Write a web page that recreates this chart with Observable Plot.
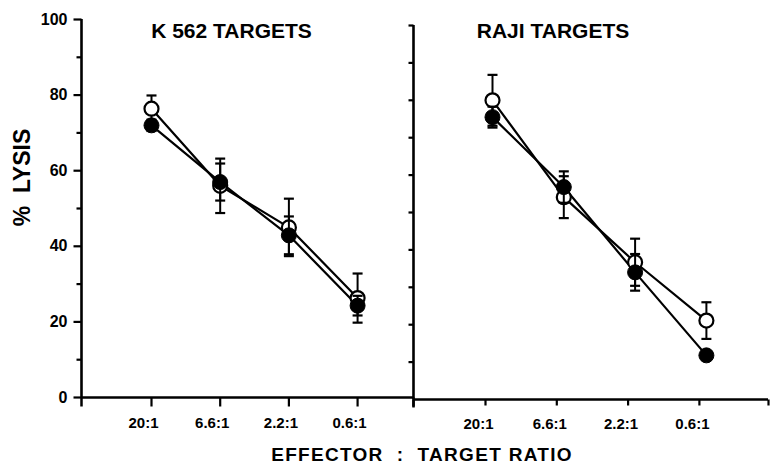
<!DOCTYPE html>
<html><head><meta charset="utf-8">
<script src="https://cdn.jsdelivr.net/npm/d3@7"></script>
<script src="https://cdn.jsdelivr.net/npm/@observablehq/plot@0.6"></script>
<style>
body{margin:0;background:#fff}
#wrap{position:relative;width:770px;height:465px;font-family:"Liberation Sans",Arial,sans-serif;font-weight:bold;color:#000;overflow:hidden}
#wrap svg{position:absolute;top:0;overflow:visible;background:transparent}
#xtitle{position:absolute;left:0;width:844px;text-align:center;top:445px;font-size:19px;line-height:19px;white-space:pre;letter-spacing:1.3px}
</style></head><body><div id="wrap"><div id="xtitle">EFFECTOR  :  TARGET RATIO</div></div>
<script>
const ratios = ["20:1", "6.6:1", "2.2:1", "0.6:1"];
const panelTitles = ["K 562 TARGETS", "RAJI TARGETS"];
const yTitle = "%  LYSIS";
const yMajor = [0, 20, 40, 60, 80, 100];
const yMinor = [10, 30, 50, 70, 90];
const yAll = [10, 20, 30, 40, 50, 60, 70, 80, 90, 100];

// K 562 panel
const k562Open = [76.4, 56.0, 45.0, 26.3];
const k562OpenErr = [3.5, 7.2, 7.6, 6.5];
const k562Filled = [72.0, 57.0, 42.9, 24.3];
const k562FilledErr = [1.5, 4.9, 5.0, 2.6];
// RAJI panel
const rajiOpen = [80.0, 54.1, 36.7, 21.1];
const rajiOpenErr = [6.8, 5.6, 6.3, 4.9];
const rajiFilled = [75.5, 56.8, 34.0, 11.8];
const rajiFilledErr = [2.8, 4.2, 4.9, 1.0];

const rows = (vals, errs) => vals.map((v, i) => ({i, v, lo: v - errs[i], hi: v + errs[i]}));

// custom symbols (r = length in px)
const cap = {draw(ctx, size) { const h = Math.sqrt(size / Math.PI); ctx.moveTo(-h, 0); ctx.lineTo(h, 0); }};
const tickLeft = {draw(ctx, size) { const h = Math.sqrt(size / Math.PI); ctx.moveTo(-h, 0); ctx.lineTo(0, 0); }};
const tickDown = {draw(ctx, size) { const h = Math.sqrt(size / Math.PI); ctx.moveTo(0, 0); ctx.lineTo(0, h); }};

const FONT = {fontFamily: "'Liberation Sans', Arial, sans-serif", fontWeight: "bold", background: "transparent", overflow: "visible", color: "black"};
const K = "black";

function seriesMarks(open, filled) {
  return [
    Plot.line(open, {x: "i", y: "v", stroke: K, strokeWidth: 2.2}),
    Plot.line(filled, {x: "i", y: "v", stroke: K, strokeWidth: 2.2}),
    Plot.ruleX(open, {x: "i", y1: "lo", y2: "hi", stroke: K, strokeWidth: 2}),
    Plot.dot(open, {x: "i", y: "hi", symbol: cap, r: 5, stroke: K, fill: "none", strokeWidth: 2.2}),
    Plot.dot(open, {x: "i", y: "lo", symbol: cap, r: 5, stroke: K, fill: "none", strokeWidth: 2.2}),
    Plot.dot(open, {x: "i", y: "v", r: 7, fill: "white", stroke: K, strokeWidth: 2.2}),
    Plot.ruleX(filled, {x: "i", y1: "lo", y2: "hi", stroke: K, strokeWidth: 2}),
    Plot.dot(filled, {x: "i", y: "hi", symbol: cap, r: 5, stroke: K, fill: "none", strokeWidth: 2.2}),
    Plot.dot(filled, {x: "i", y: "lo", symbol: cap, r: 5, stroke: K, fill: "none", strokeWidth: 2.2}),
    Plot.dot(filled, {x: "i", y: "v", r: 7.5, fill: K, stroke: K, strokeWidth: 1})
  ];
}

const idx = d3.range(ratios.length);

// ---- left panel (K 562)
const leftDomain = [-1.019, 3.814];
const left = Plot.plot({
  width: 414, height: 432,
  marginLeft: 81, marginRight: 1, marginTop: 19, marginBottom: 35,
  style: FONT,
  x: {type: "linear", domain: leftDomain, label: null, axis: null},
  y: {domain: [0, 100], label: null, axis: null},
  marks: [
    Plot.ruleX([leftDomain[0]], {y1: 0, y2: 100, stroke: K, strokeWidth: 2.6}),
    Plot.ruleY([0], {x1: leftDomain[0], x2: leftDomain[1], stroke: K, strokeWidth: 2.6}),
    Plot.dot(yMajor, {x: () => leftDomain[0], y: d => d, symbol: tickLeft, r: 8, stroke: K, fill: "none", strokeWidth: 2.2}),
    Plot.dot(yMinor, {x: () => leftDomain[0], y: d => d, symbol: tickLeft, r: 5, stroke: K, fill: "none", strokeWidth: 2.2}),
    Plot.text(yMajor, {x: () => leftDomain[0], y: d => d, text: d => String(d), textAnchor: "end", dx: -14, fontSize: 16, fill: K}),
    Plot.dot(idx, {x: d => d, y: () => 0, symbol: tickDown, r: 9, stroke: K, fill: "none", strokeWidth: 2.2}),
    Plot.dot(leftDomain, {x: d => d, y: () => 0, symbol: tickDown, r: 9, stroke: K, fill: "none", strokeWidth: 2.5}),
    Plot.text(idx, {x: d => d, y: () => 0, text: i => ratios[i], lineAnchor: "top", dy: 20, dx: -8, fontSize: 15, fill: K}),
    ...seriesMarks(rows(k562Open, k562OpenErr), rows(k562Filled, k562FilledErr)),
    Plot.text([panelTitles[0]], {frameAnchor: "top", text: d => d, fontSize: 21, lineAnchor: "bottom", textAnchor: "middle", dx: -16, dy: 18, fill: K}),
    Plot.text([yTitle], {frameAnchor: "left", text: d => d, fontSize: 23, rotate: -90, textAnchor: "middle", lineAnchor: "middle", dx: -59, dy: -31, fill: K})
  ]
});
left.style.left = "0px";

// ---- right panel (RAJI)
const rightDomain = [-1.108, 3.871];
const right = Plot.plot({
  width: 370, height: 432,
  marginLeft: 13, marginRight: 2, marginTop: 25, marginBottom: 33,
  style: FONT,
  x: {type: "linear", domain: rightDomain, label: null, axis: null},
  y: {domain: [0, 100], label: null, axis: null},
  marks: [
    Plot.ruleX([rightDomain[0]], {y1: 0, y2: 100, stroke: K, strokeWidth: 2.6}),
    Plot.ruleY([0], {x1: rightDomain[0], x2: rightDomain[1], stroke: K, strokeWidth: 2.6}),
    Plot.dot(yAll, {x: () => rightDomain[0], y: d => d, symbol: tickLeft, r: 5, stroke: K, fill: "none", strokeWidth: 2.2}),
    Plot.dot(idx, {x: d => d, y: () => 0, symbol: tickDown, r: 6, dx: -7, stroke: K, fill: "none", strokeWidth: 2.2}),
    Plot.dot([rightDomain[0]], {x: d => d, y: () => 0, symbol: tickDown, r: 8, stroke: K, fill: "none", strokeWidth: 2.5}),
    Plot.dot([rightDomain[1]], {x: d => d, y: () => 0, symbol: tickDown, r: 6, stroke: K, fill: "none", strokeWidth: 2.2}),
    Plot.text(idx, {x: d => d, y: () => 0, text: i => ratios[i], lineAnchor: "top", dy: 19, dx: -14, fontSize: 15, fill: K}),
    ...seriesMarks(rows(rajiOpen, rajiOpenErr), rows(rajiFilled, rajiFilledErr)),
    Plot.text([panelTitles[1]], {frameAnchor: "top", text: d => d, fontSize: 21, lineAnchor: "bottom", textAnchor: "middle", dx: -38, dy: 12, fill: K})
  ]
});
right.style.left = "400px";

const wrap = document.getElementById("wrap");
wrap.appendChild(left);
wrap.appendChild(right);
</script>
</body></html>
